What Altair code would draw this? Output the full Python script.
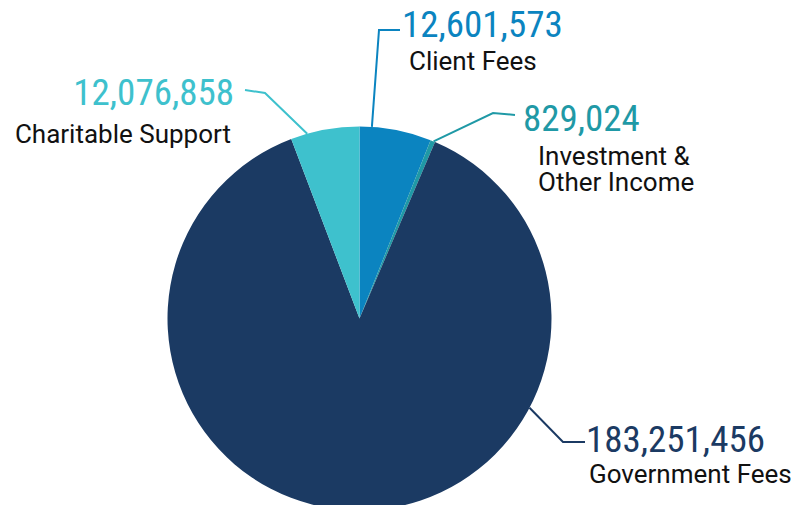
import math
import altair as alt
import pandas as pd

# ---- data ----
categories = ["Client Fees", "Investment & Other Income", "Government Fees", "Charitable Support"]
values = [12601573, 829024, 183251456, 12076858]
value_labels = ["12,601,573", "829,024", "183,251,456", "12,076,858"]
name_lines = [["Client Fees"], ["Investment &", "Other Income"], ["Government Fees"], ["Charitable Support"]]
colors = ["#0b84c0", "#1f99a6", "#1b3a63", "#3ec1cd"]

# ---- layout (page pixel space) ----
W, H = 784, 497
X0, Y0 = 8, 8
cx, cy, R = 359.5, 318.5, 192
# leader-line anchor angle on the pie edge (deg from 12 o'clock), elbow and end points
anchor_deg = [3.7, 22.7, 117.7, -15.8]
elbows = [(379, 30), (493, 113), (563, 442), (265, 93)]
ends = [(400, 30), (515, 115), (585, 442), (245, 90)]
num_pos = [(402, 37, "left"), (523, 131, "left"), (586, 452, "left"), (234, 105, "right")]
name_pos = [(409, 70, "left"), (538, 165, "left"), (589, 483, "left"), (231, 143, "right")]

xs = alt.Scale(domain=[X0, X0 + W], nice=False, zero=False)
ys = alt.Scale(domain=[Y0, Y0 + H], nice=False, zero=False, reverse=True)
cscale = alt.Scale(domain=categories, range=colors)

pie_df = pd.DataFrame({"category": categories, "value": values, "order": list(range(len(values)))})

rows = []
for i, c in enumerate(categories):
    a = math.radians(anchor_deg[i])
    pts = [(cx + R * math.sin(a), cy - R * math.cos(a)), elbows[i], ends[i]]
    for k, (px, py) in enumerate(pts):
        rows.append({"category": c, "pt": k, "x": px, "y": py})
line_df = pd.DataFrame(rows)

txt_df = pd.DataFrame({
    "category": categories,
    "num": value_labels,
    "nx": [p[0] for p in num_pos], "ny": [p[1] for p in num_pos], "nalign": [p[2] for p in num_pos],
    "name": name_lines,
    "lx": [p[0] for p in name_pos], "ly": [p[1] for p in name_pos], "lalign": [p[2] for p in name_pos],
})

pie = alt.Chart(pie_df).mark_arc(radius=R).encode(
    theta=alt.Theta("value:Q", stack=True),
    order=alt.Order("order:Q"),
    color=alt.Color("category:N", scale=cscale, legend=None),
    x=alt.X(datum=cx, type="quantitative", scale=xs, axis=None),
    y=alt.Y(datum=cy, type="quantitative", scale=ys, axis=None),
)

lines = alt.Chart(line_df).mark_line(strokeWidth=2, strokeJoin="miter").encode(
    x=alt.X("x:Q", scale=xs, axis=None),
    y=alt.Y("y:Q", scale=ys, axis=None),
    color=alt.Color("category:N", scale=cscale, legend=None),
    order=alt.Order("pt:Q"),
    detail="category:N",
)

NUM_FONT = "Liberation Sans Narrow, Roboto Condensed, Roboto"

def num_layer(al):
    return alt.Chart(txt_df).transform_filter(alt.datum.nalign == al).mark_text(
        align=al, baseline="alphabetic", font=NUM_FONT, fontSize=37
    ).encode(
        x=alt.X("nx:Q", scale=xs, axis=None),
        y=alt.Y("ny:Q", scale=ys, axis=None),
        text="num:N",
        color=alt.Color("category:N", scale=cscale, legend=None),
    )

def name_layer(al):
    return alt.Chart(txt_df).transform_filter(alt.datum.lalign == al).mark_text(
        align=al, baseline="alphabetic", font="Roboto", fontSize=26, lineHeight=26, color="#111111"
    ).encode(
        x=alt.X("lx:Q", scale=xs, axis=None),
        y=alt.Y("ly:Q", scale=ys, axis=None),
        text="name",
    )

chart = alt.layer(
    pie, lines, num_layer("left"), num_layer("right"), name_layer("left"), name_layer("right")
).properties(
    width=W, height=H, padding=0, autosize=alt.AutoSizeParams(type="none"), background="white"
).configure_view(stroke=None)

chart.save("out.html", embed_options={"renderer": "svg", "actions": False})
